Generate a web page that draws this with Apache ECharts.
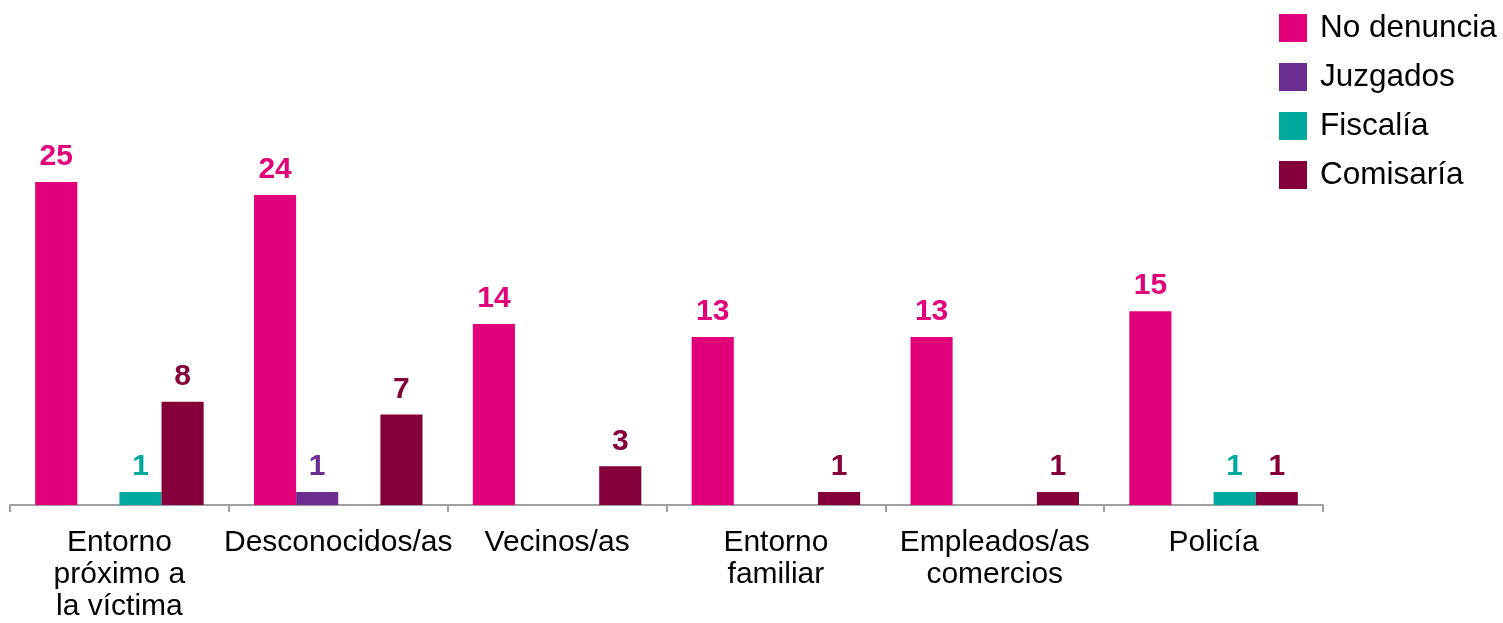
<!DOCTYPE html>
<html>
<head>
<meta charset="utf-8">
<script src="https://cdn.jsdelivr.net/npm/echarts@6/dist/echarts.min.js"></script>
<style>
    html, body { margin: 0; padding: 0; background: #fff; }
    #chart { width: 1503px; height: 623px; }
</style>
</head>
<body>
<div id="chart"></div>
<script>
var categories = ['Entorno\npróximo a\nla víctima', 'Desconocidos/as', 'Vecinos/as', 'Entorno\nfamiliar', 'Empleados/as\ncomercios', 'Policía'];
var seriesNames = ['No denuncia', 'Juzgados', 'Fiscalía', 'Comisaría'];
var noDenuncia = [25, 24, 14, 13, 13, 15];
var juzgados   = ['-', 1, '-', '-', '-', '-'];
var fiscalia   = [1, '-', '-', '-', '-', 1];
var comisaria  = [8, 7, 3, 1, 1, 1];
var colors = ['#E2007A', '#6B2D8F', '#00A99D', '#85003A'];

var chart = echarts.init(document.getElementById('chart'));
var font = 'Liberation Sans, Arial, sans-serif';

function makeSeries(i, data){
    return {
        name: seriesNames[i],
        type: 'bar',
        data: data,
        barGap: 0,
        barCategoryGap: '23%',
        itemStyle: { color: colors[i] },
        label: {
            show: true,
            position: 'top',
            distance: 10,
            color: colors[i],
            fontFamily: font,
            fontWeight: 'bold',
            fontSize: 30
        }
    };
}

var option = {
    animation: false,
    textStyle: { fontFamily: font },
    legend: {
        orient: 'vertical',
        left: 1274,
        top: 7,
        itemWidth: 28,
        itemHeight: 28,
        itemGap: 17,
        icon: 'rect',
        textStyle: { fontSize: 31.5, color: '#000', fontFamily: font, padding: [0, 0, 0, 8] },
        data: seriesNames
    },
    grid: { left: 10, right: 180, top: 182, bottom: 116 },
    xAxis: {
        type: 'category',
        data: categories,
        axisLine: { lineStyle: { color: '#A0A0A0', width: 2 } },
        axisTick: { show: true, length: 7, lineStyle: { color: '#A0A0A0', width: 2 } },
        axisLabel: {
            interval: 0,
            color: '#000',
            fontSize: 30,
            lineHeight: 32,
            margin: 22,
            fontFamily: font
        }
    },
    yAxis: {
        type: 'value',
        min: 0,
        max: 25,
        show: false,
        splitLine: { show: false }
    },
    series: [
        makeSeries(0, noDenuncia),
        makeSeries(1, juzgados),
        makeSeries(2, fiscalia),
        makeSeries(3, comisaria)
    ]
};

chart.setOption(option);
</script>
</body>
</html>
